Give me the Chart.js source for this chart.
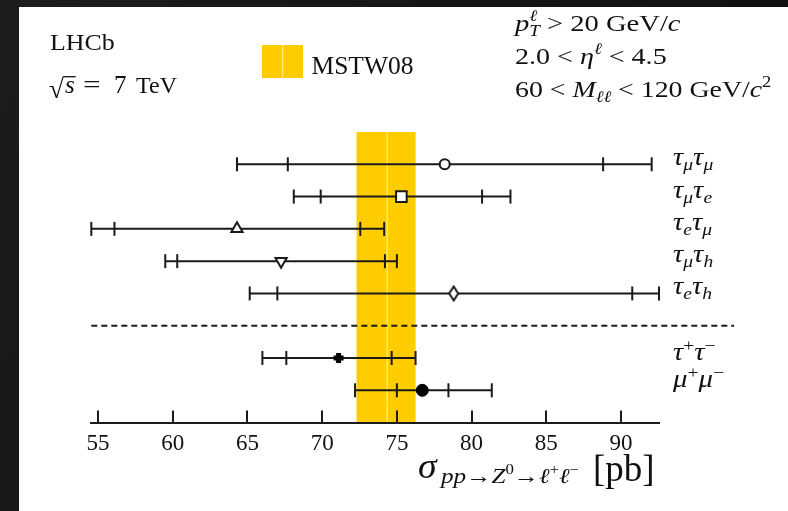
<!DOCTYPE html>
<html><head><meta charset="utf-8">
<script src="https://cdn.jsdelivr.net/npm/chart.js@4"></script>
<style>html,body{margin:0;padding:0;background:#141414;overflow:hidden}</style>
</head><body>
<canvas id="c" width="788" height="511"></canvas>
<script>
// ---- data ----
const channels   = ['τμτμ','τμτe','τeτμ','τμτh','τeτh','τ+τ−','μ+μ−'];
const rowPos     = [0, 1, 2, 3, 4, 6, 7];
const central    = [78.2, 75.3, 64.3, 67.25, 78.8, 71.1, 76.7];
const statLo     = [67.7, 69.9, 56.1, 60.3, 67.0, 67.6, 75.0];
const statHi     = [88.8, 80.7, 72.55, 74.2, 90.75, 74.65, 78.45];
const totLo      = [64.3, 68.1, 54.55, 59.5, 65.15, 66.0, 72.2];
const totHi      = [92.05, 82.6, 74.15, 75.0, 92.54, 76.25, 81.35];
const mstwBand   = [72.3, 74.35, 76.25];   // low, central, high
const xTicks     = [55, 60, 65, 70, 75, 80, 85, 90];
const xRange     = [54.55, 92.54];
const separatorRow = 5;

// ---- styles ----
const INK = '#1a1a1a';
const FONT = '"Liberation Serif", "DejaVu Serif", serif';

function diamondImg(){
  const c = document.createElement('canvas'); c.width = 12; c.height = 17;
  const g = c.getContext('2d');
  g.beginPath(); g.moveTo(6,1.5); g.lineTo(10.5,8.5); g.lineTo(6,15.5); g.lineTo(1.5,8.5); g.closePath();
  g.fillStyle = '#fff'; g.fill(); g.lineWidth = 2; g.strokeStyle = INK; g.stroke();
  return c;
}
const markers = [
  {pointStyle:'circle',   radius:5,   bg:'#fff', bw:2, rot:0},
  {pointStyle:'rect',     radius:7.5, bg:'#fff', bw:2, rot:0},
  {pointStyle:'triangle', radius:6.5, bg:'#fff', bw:2, rot:0},
  {pointStyle:'triangle', radius:6.5, bg:'#fff', bw:2, rot:180},
  {pointStyle:diamondImg(), radius:7, bg:'#fff', bw:2, rot:0},
  {pointStyle:'cross',    radius:5,   bg:'#000', bw:5, rot:0},
  {pointStyle:'circle',   radius:6,   bg:'#000', bw:1, rot:0}
];

const datasets = [];
channels.forEach((ch, i) => {
  const y = rowPos[i];
  datasets.push({
    type:'line', label: ch + ' total',
    data:[{x:totLo[i], y}, {x:totHi[i], y}],
    borderColor: INK, borderWidth: 2,
    pointStyle:'line', pointRotation:90, pointRadius:7, pointBorderWidth:2, pointBorderColor:INK,
    clip:false, order:3
  });
  datasets.push({
    type:'scatter', label: ch + ' stat',
    data:[{x:statLo[i], y}, {x:statHi[i], y}],
    showLine:false,
    pointStyle:'line', pointRotation:90, pointRadius:7, pointBorderWidth:2, pointBorderColor:INK,
    clip:false, order:2
  });
  const m = markers[i];
  datasets.push({
    type:'scatter', label: ch,
    data:[{x:central[i], y}],
    pointStyle:m.pointStyle, pointRotation:m.rot, pointRadius:m.radius,
    pointBackgroundColor:m.bg, pointBorderColor: (i>=5?'#000':INK), pointBorderWidth:m.bw,
    clip:false, order:1
  });
});

// draws a run of text segments; sx = horizontal stretch
function rich(ctx, x, y, segs, sx){
  sx = sx || 1;
  ctx.save(); ctx.translate(x, y); ctx.scale(sx, 1);
  let cx = 0, prevStart = 0;
  for (const s of segs){
    const [t, size, st, dy, flag] = s;
    ctx.font = (st === 'i' ? 'italic ' : '') + size + 'px ' + FONT;
    const px = flag === 'back' ? prevStart : cx;
    ctx.fillText(t, px, dy || 0);
    const w = ctx.measureText(t).width;
    if (flag === 'back') cx = Math.max(cx, px + w);
    else { prevStart = px; cx = px + w; }
  }
  ctx.restore();
  return x + cx * sx;
}

function labelSegs(ch){
  const a = [...ch];
  if (a[1] === '+') {
    return [[a[0],25,'i',0],[a[1],17,'n',-9],[a[2],25,'i',0],[a[3],17,'n',-9]];
  }
  return [[a[0],25,'i',0],[a[1],17,'i',5],[a[2],25,'i',0],[a[3],17,'i',5]];
}
const labelDy = [1,1,1,1,1,2,-3];

const deco = {
  id:'deco',
  beforeDraw(chart){
    const {ctx, chartArea, scales} = chart;
    ctx.save();
    const grd = ctx.createLinearGradient(0,0,788,511);
    grd.addColorStop(0,'#1d1d1d'); grd.addColorStop(1,'#0b0b0b');
    ctx.fillStyle = grd; ctx.fillRect(0,0,788,511);
    ctx.fillStyle = '#fff'; ctx.fillRect(19,7,769,504);
    // MSTW08 band
    const x = scales.x;
    const x0 = x.getPixelForValue(mstwBand[0]), x2 = x.getPixelForValue(mstwBand[2]), x1 = x.getPixelForValue(mstwBand[1]);
    ctx.fillStyle = '#FFCC00';
    ctx.fillRect(x0, chartArea.top, x2 - x0, chartArea.bottom - chartArea.top);
    ctx.strokeStyle = '#FFF27A'; ctx.lineWidth = 1.2;
    ctx.beginPath(); ctx.moveTo(x1, chartArea.top); ctx.lineTo(x1, chartArea.bottom); ctx.stroke();
    ctx.restore();
  },
  afterDraw(chart){
    const {ctx, chartArea, scales} = chart;
    const xs = scales.x, ys = scales.y;
    ctx.save();
    // tick marks pointing up
    ctx.strokeStyle = INK; ctx.lineWidth = 2;
    xs.ticks.forEach(t => {
      const px = Math.round(xs.getPixelForValue(t.value));
      ctx.beginPath(); ctx.moveTo(px, chartArea.bottom); ctx.lineTo(px, chartArea.bottom - 12); ctx.stroke();
    });
    // separator dashed line
    const sy = ys.getPixelForValue(separatorRow);
    ctx.setLineDash([6,4]); ctx.lineWidth = 2;
    ctx.beginPath(); ctx.moveTo(chartArea.left, sy); ctx.lineTo(chartArea.right + 75, sy); ctx.stroke();
    ctx.setLineDash([]);
    // channel labels
    ctx.fillStyle = '#111'; ctx.textBaseline = 'alphabetic'; ctx.textAlign = 'left';
    channels.forEach((ch, i) => {
      rich(ctx, chartArea.right + 14, ys.getPixelForValue(rowPos[i]) + labelDy[i], labelSegs(ch), 1.15);
    });
    // header texts
    rich(ctx, 50, 50, [['LHCb',24,'n',0]], 1.08);
    // sqrt(s)
    ctx.font = '27px ' + FONT;
    const rm = ctx.measureText('√');
    const rx = 49, ry = 98;
    ctx.fillText('√', rx, ry);
    const rTop = ry - rm.actualBoundingBoxAscent;
    const rRight = rx + rm.actualBoundingBoxRight;
    const sEnd = rich(ctx, rRight + 1, 93, [['s',25,'i',0]]);
    ctx.strokeStyle = '#111'; ctx.lineWidth = 1.3;
    ctx.beginPath(); ctx.moveTo(rRight - 0.8, rTop + 0.7); ctx.lineTo(Math.max(sEnd + 1, 73), rTop + 0.7); ctx.stroke();
    rich(ctx, 83, 93, [['=',25,'n',0]], 1.25);
    rich(ctx, 114, 93, [['7',25,'n',0]]);
    rich(ctx, 136, 93, [['TeV',24,'n',0]]);
    // legend
    ctx.fillStyle = '#FFCC00'; ctx.fillRect(262,45,41,33);
    ctx.strokeStyle = '#FFF27A'; ctx.lineWidth = 1.2;
    ctx.beginPath(); ctx.moveTo(282.7,45); ctx.lineTo(282.7,78); ctx.stroke();
    ctx.fillStyle = '#111';
    rich(ctx, 311.5, 74, [['MSTW08',25,'n',0]], 1.02);
    // cuts
    rich(ctx, 515, 31, [['p',24,'i',0],['ℓ',16,'i',-10],['T',16,'i',5,'back'],[' > 20 GeV/',24,'n',0],['c',24,'i',0]], 1.19);
    rich(ctx, 515, 64, [['2.0 < ',24,'n',0],['η',24,'i',0],['ℓ',16,'i',-10],[' < 4.5',24,'n',0]], 1.17);
    rich(ctx, 515, 97, [['60 < ',24,'n',0],['M',24,'i',0],['ℓℓ',16,'i',5],[' < 120 GeV/',24,'n',0],['c',24,'i',0],['2',16,'n',-10]], 1.16);
    // axis title
    rich(ctx, 418, 478, [['σ',36,'i',0]], 1.05);
    rich(ctx, 441, 478, [['pp',21,'i',5],['→',21,'n',5],['Z',21,'i',5],['0',14,'n',-4],['→',21,'n',5],['ℓ',21,'i',5],['+',14,'n',-4],['ℓ',21,'i',5],['−',14,'n',-4]], 1.2);
    rich(ctx, 593, 481, [['[pb]',37,'n',0]]);
    ctx.restore();
  }
};

new Chart(document.getElementById('c'), {
  data:{datasets},
  options:{
    responsive:false, animation:false, events:[],
    layout:{padding:{left:91.3, right:129, top:132, bottom:48.4}},
    plugins:{legend:{display:false}, tooltip:{enabled:false}},
    scales:{
      x:{type:'linear', position:'bottom', min:xRange[0], max:xRange[1],
         afterBuildTicks: s => { s.ticks = xTicks.map(v => ({value:v})); },
         afterFit: s => { s.height = 40; },
         grid:{display:true, drawOnChartArea:false, drawTicks:false},
         border:{display:true, color:INK, width:2},
         ticks:{color:'#111', font:{family:'"Liberation Serif", serif', size:23}, padding:8, maxRotation:0, autoSkip:false}
      },
      y:{type:'linear', min:-1, max:8, reverse:true, display:false}
    }
  },
  plugins:[deco]
});
</script>
</body></html>
